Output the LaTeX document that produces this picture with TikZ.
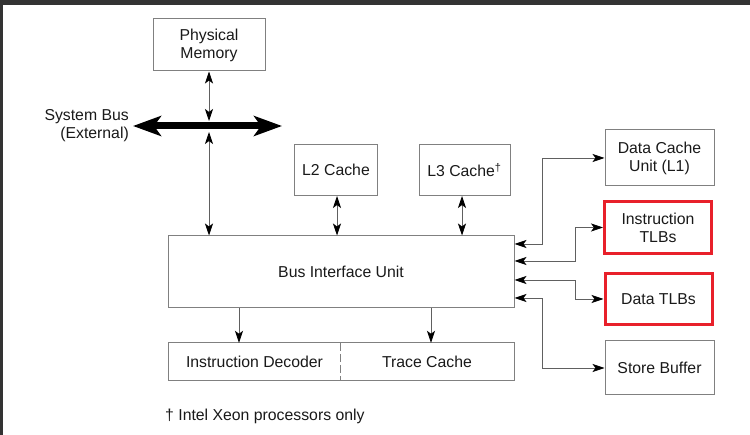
\documentclass[tikz,border=0pt]{standalone}
\usepackage{fontspec}
\setmainfont{Liberation Sans}
\usetikzlibrary{arrows.meta}

\definecolor{frame}{HTML}{333333}
\definecolor{boxline}{HTML}{808080}
\definecolor{wire}{HTML}{606060}
\definecolor{tlbred}{HTML}{E8202A}

\begin{document}
\begin{tikzpicture}[x=1pt,y=-1pt,
        font=\fontsize{15.8}{18}\selectfont,
        box/.style={draw=boxline,line width=1pt,align=center,inner sep=0pt,text=black!90},
        tlb/.style={box,draw=tlbred,line width=3pt},
        label/.style={inner sep=0pt,text=black!90},
        link/.style={draw=wire,line width=0.8pt,{Stealth[length=12pt,width=8pt,inset=3pt,color=black]}-{Stealth[length=12pt,width=8pt,inset=3pt,color=black]}},
        feed/.style={draw=wire,line width=0.8pt,-{Stealth[length=12pt,width=8pt,inset=3pt,color=black]}},
        bus/.style={line width=7pt,{Stealth[length=28pt,width=20pt,inset=7pt]}-{Stealth[length=28pt,width=20pt,inset=7pt]}}]
    \useasboundingbox (0,0) rectangle (750,435);
    \fill[frame] (0,0) rectangle (750,5);
    \fill[frame] (0,0) rectangle (3,435);

    % Blocks
    \node[box,minimum width=112pt,minimum height=52pt] (pm) at (209,45) {Physical\\Memory};
    \node[box,minimum width=83pt,minimum height=51pt] (l2) at (336,170) {L2 Cache};
    \node[box,minimum width=91pt,minimum height=51pt] (l3) at (464.5,170) {L3 Cache\textsuperscript{†}};
    \node[box,minimum width=346pt,minimum height=72pt] (biu) at (341,272) {Bus Interface Unit};
    \node[label,minimum width=171pt,minimum height=37pt] (dec) at (254.5,361.5) {Instruction Decoder};
    \node[label,minimum width=174pt,minimum height=37pt] (tc) at (427,361.5) {Trace Cache};
    \draw[boxline,line width=1pt] (dec.north west) rectangle (tc.south east);
    \draw[boxline,line width=1pt,dash pattern=on 8pt off 3pt] (dec.north east) -- (dec.south east);

    \node[box,minimum width=109pt,minimum height=56pt] (dcu) at (659.5,158) {Data Cache\\Unit (L1)};
    \node[tlb,minimum width=107pt,minimum height=52pt] (itlb) at (658,227.5) {Instruction\\TLBs};
    \node[tlb,minimum width=107pt,minimum height=51pt] (dtlb) at (658.5,299) {Data TLBs};
    \node[box,minimum width=109pt,minimum height=54pt] (sb) at (659.5,368) {Store Buffer};

    % System bus
    \coordinate (busL) at (133,126);
    \coordinate (busR) at (282,126);
    \coordinate (busT) at (209,121);
    \coordinate (busB) at (209,132);
    \draw[bus] (busL) -- (busR);
    \node[label,anchor=east,align=right] (buslbl) at (129,126) {System Bus\\(External)};

    % Connectors
    \draw[link] (pm.south) -- (busT);
    \draw[link] (busB) -- (biu.north -| busB);
    \draw[link] (337,0 |- l2.south) -- (337,0 |- biu.north);
    \draw[link] (462,0 |- l3.south) -- (462,0 |- biu.north);
    \draw[link] (dcu.west) -| (542,244) -- (biu.east |- 0,244);
    \draw[link] (itlb.west) -| (575,261) -- (biu.east |- 0,261);
    \draw[link] (dtlb.west) -| (575,280) -- (biu.east |- 0,280);
    \draw[link] (sb.west) -| (542,298) -- (biu.east |- 0,298);
    \draw[feed] (239,0 |- biu.south) -- (239,0 |- dec.north);
    \draw[feed] (431,0 |- biu.south) -- (431,0 |- tc.north);

    % Footnote
    \node[label,anchor=west] (note) at (165,416) {† Intel Xeon processors only};
\end{tikzpicture}
\end{document}
